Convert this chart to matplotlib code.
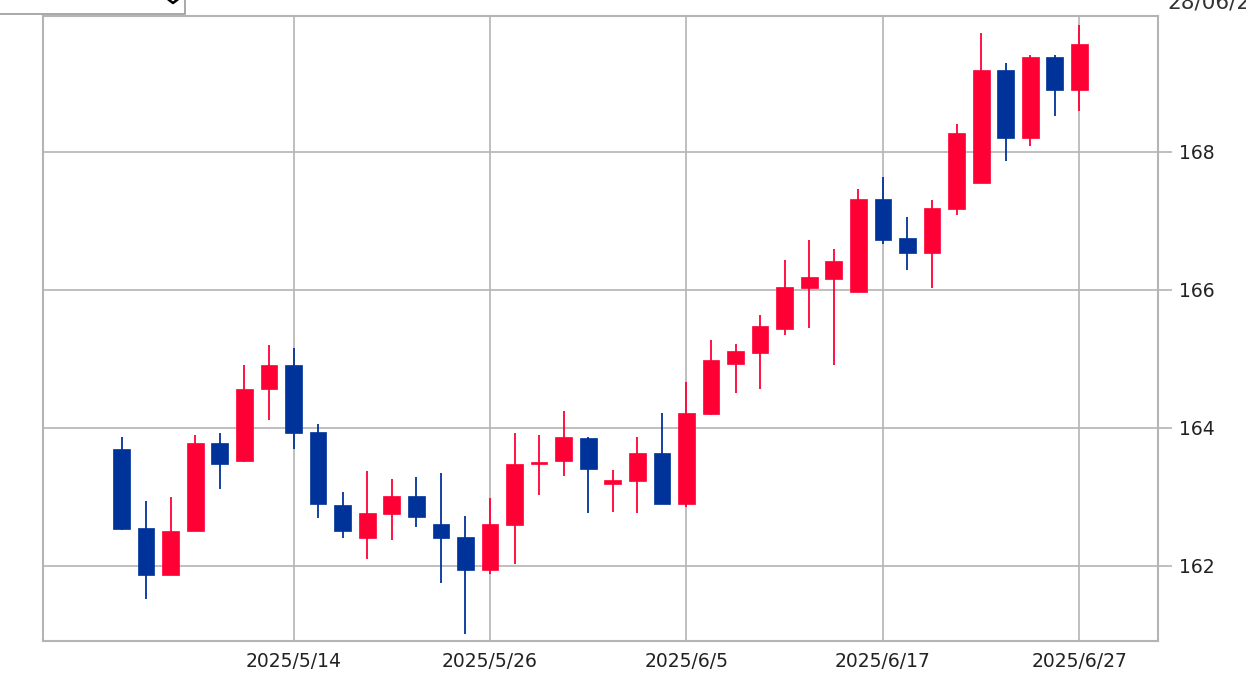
import matplotlib
matplotlib.use("Agg")
import matplotlib.pyplot as plt
from matplotlib.patches import Rectangle
from matplotlib.lines import Line2D

# 営業日 (2025/5/5 - 2025/6/27)
dates = ["2025/5/5", "2025/5/6", "2025/5/7", "2025/5/8", "2025/5/9",
         "2025/5/12", "2025/5/13", "2025/5/14", "2025/5/15", "2025/5/16",
         "2025/5/19", "2025/5/20", "2025/5/21", "2025/5/22", "2025/5/23",
         "2025/5/26", "2025/5/27", "2025/5/28", "2025/5/29", "2025/5/30",
         "2025/6/2", "2025/6/3", "2025/6/4", "2025/6/5", "2025/6/6",
         "2025/6/9", "2025/6/10", "2025/6/11", "2025/6/12", "2025/6/13",
         "2025/6/16", "2025/6/17", "2025/6/18", "2025/6/19", "2025/6/20",
         "2025/6/23", "2025/6/24", "2025/6/25", "2025/6/26", "2025/6/27"]

opens = [163.70, 162.55, 161.86, 162.51, 163.78, 163.52, 164.57, 164.91, 163.94, 162.88,
         162.41, 162.75, 163.01, 162.60, 162.42, 161.94, 162.59, 163.47, 163.52, 163.85,
         163.19, 163.23, 163.64, 162.89, 164.20, 164.93, 165.09, 165.43, 166.03, 166.16,
         165.97, 167.31, 166.75, 166.54, 167.17, 167.55, 169.18, 168.20, 169.37, 168.90]
highs = [163.87, 162.94, 163.00, 163.89, 163.92, 164.91, 165.20, 165.16, 164.05, 163.07,
         163.37, 163.26, 163.29, 163.35, 162.72, 162.98, 163.92, 163.89, 164.24, 163.86,
         163.39, 163.86, 164.22, 164.66, 165.27, 165.22, 165.63, 166.43, 166.72, 166.59,
         167.46, 167.64, 167.05, 167.30, 168.41, 169.72, 169.29, 169.40, 169.40, 169.84]
lows = [162.52, 161.52, 161.86, 162.50, 163.11, 163.50, 164.11, 163.69, 162.70, 162.41,
        162.10, 162.38, 162.56, 161.75, 161.01, 161.88, 162.02, 163.02, 163.30, 162.76,
        162.78, 162.76, 162.89, 162.85, 164.18, 164.50, 164.57, 165.34, 165.44, 164.91,
        165.97, 166.67, 166.29, 166.02, 167.09, 167.55, 167.87, 168.09, 168.52, 168.60]
closes = [162.54, 161.86, 162.50, 163.78, 163.47, 164.57, 164.91, 163.93, 162.89, 162.51,
          162.77, 163.01, 162.71, 162.41, 161.94, 162.60, 163.48, 163.51, 163.86, 163.41,
          163.24, 163.64, 162.89, 164.22, 164.98, 165.11, 165.47, 166.04, 166.18, 166.42,
          167.31, 166.72, 166.54, 167.18, 168.27, 169.18, 168.20, 169.37, 168.90, 169.56]

tick_dates = ["2025/5/14", "2025/5/26", "2025/6/5", "2025/6/17", "2025/6/27"]
y_ticks = [162, 164, 166, 168]

up_color = "#ff0035"
down_color = "#003399"
grid_color = "#b4b4b4"

fig = plt.figure(figsize=(12.46, 6.76), dpi=100)
ax = fig.add_axes([43 / 1246, 35 / 676, (1158 - 43) / 1246, (641 - 16) / 676])

w = 0.68
for i in range(len(dates)):
    o, h, l, c = opens[i], highs[i], lows[i], closes[i]
    col = up_color if c >= o else down_color
    ax.vlines(i, l, h, color=col, lw=1.3, zorder=3)
    bottom = min(o, c)
    height = max(abs(c - o), 0.04)
    ax.add_patch(Rectangle((i - w / 2, bottom), w, height, facecolor=col,
                           edgecolor=col, lw=0.5, zorder=4))

ax.set_xlim(-3.2, len(dates) - 1 + 3.2)
ax.set_ylim(160.91, 169.97)

ax.set_xticks([dates.index(d) for d in tick_dates])
ax.set_xticklabels(tick_dates)
ax.set_yticks(y_ticks)
ax.set_yticklabels([str(v) for v in y_ticks])
ax.yaxis.tick_right()
ax.tick_params(axis="y", length=10, width=1.2, color=grid_color, pad=5,
               labelsize=13.5, labelcolor="#222222")
ax.tick_params(axis="x", length=0, pad=8, labelsize=13.5, labelcolor="#222222")

ax.grid(True, color=grid_color, lw=1.2)
ax.set_axisbelow(True)
for s in ax.spines.values():
    s.set_color(grid_color)
    s.set_linewidth(1.5)

# 上部のUI部品 (見切れ)
fig.add_artist(Rectangle((-0.01, 1 - 14 / 676), 197 / 1246, 30 / 676,
                         transform=fig.transFigure, facecolor="white",
                         edgecolor="#9a9a9a", lw=1.2, clip_on=False))
fig.add_artist(Line2D([169 / 1246, 173 / 1246, 177 / 1246],
                      [1 - 0 / 676, 1 - 3 / 676, 1 - 0 / 676],
                      transform=fig.transFigure, color="black", lw=1.8))
fig.text(1167 / 1246, 1 - 9 / 676, "28/06/2025", fontsize=15.5, color="#333333",
         va="baseline", ha="left")

fig.savefig("out.png", dpi=100)
